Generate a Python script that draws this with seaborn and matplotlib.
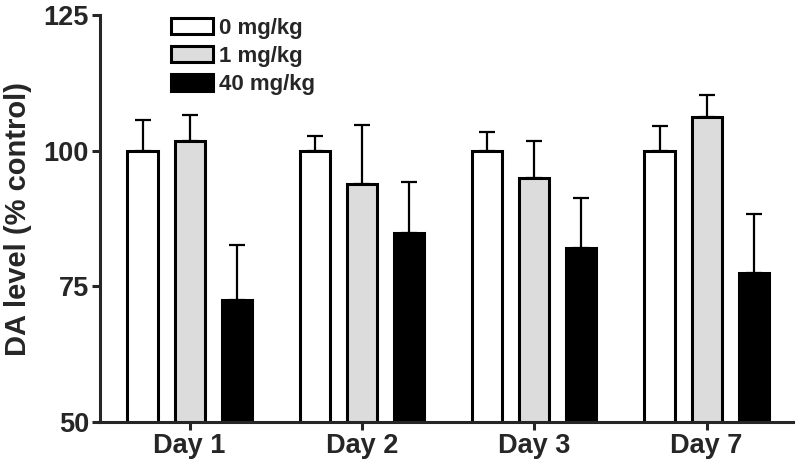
import pandas as pd
import seaborn as sns
import matplotlib.pyplot as plt

days = ["Day 1", "Day 2", "Day 3", "Day 7"]
doses = ["0 mg/kg", "1 mg/kg", "40 mg/kg"]
# mean DA level (% control) per dose, one value per day
dose0 = [100.0, 100.0, 100.0, 100.0]
dose1 = [101.7, 93.9, 95.0, 106.3]
dose40 = [72.4, 84.8, 82.0, 77.5]
# upper error (SEM)
err0 = [5.7, 2.8, 3.4, 4.5]
err1 = [4.8, 10.9, 6.7, 3.9]
err40 = [10.2, 9.4, 9.2, 10.8]

means = [dose0, dose1, dose40]
errs = [err0, err1, err40]

df = pd.DataFrame({
    "day": days * 3,
    "dose": [d for d in doses for _ in days],
    "value": dose0 + dose1 + dose40,
})

sns.set_style("ticks")
plt.rcParams["font.family"] = ["Liberation Sans", "DejaVu Sans"]
plt.rcParams["font.weight"] = "bold"

fig = plt.figure(figsize=(8, 4.71), dpi=100)
ax = fig.add_axes([0.125, 0.104, 0.866, 0.864])

sns.barplot(data=df, x="day", y="value", hue="dose", order=days, hue_order=doses,
            palette=["white", "#dcdcdc", "black"], edgecolor="black", linewidth=2.2,
            width=0.82, gap=0.36, errorbar=None, saturation=1, ax=ax)

# upper-only error bars on top of each bar
for cont, e in zip(ax.containers, errs):
    xs = [b.get_x() + b.get_width() / 2 for b in cont]
    hs = [b.get_height() for b in cont]
    ax.errorbar(xs, hs, yerr=[[0] * len(e), e], fmt="none", ecolor="black",
                elinewidth=1.6, capsize=6, capthick=1.6, zorder=1)

ax.set_ylim(50, 125)
ax.set_yticks([50, 75, 100, 125])
ax.set_xlim(-0.52, 3.5)
ax.set_xlabel("")
ax.set_ylabel("DA level (% control)", fontsize=21, fontweight="bold", labelpad=8)
ax.tick_params(axis="both", labelsize=19.5, width=2.2, length=6, direction="out", pad=2)
for lab in ax.get_xticklabels() + ax.get_yticklabels():
    lab.set_fontweight("bold")
for s in ["left", "bottom"]:
    ax.spines[s].set_linewidth(2.2)
sns.despine(ax=ax)

ax.legend(loc="upper left", bbox_to_anchor=(0.214, 0.962), bbox_transform=fig.transFigure,
          frameon=False, handlelength=1.9, handleheight=0.75,
          handletextpad=0.25, labelspacing=0.32, borderpad=0, borderaxespad=0,
          prop={"weight": "bold", "size": 16})

fig.savefig("out.png", dpi=100)
